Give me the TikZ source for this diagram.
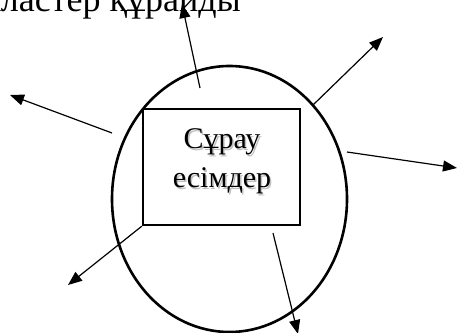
\documentclass[tikz,border=0pt]{standalone}
\usepackage{fontspec}
\setmainfont{Liberation Serif}
\usetikzlibrary{arrows.meta}
\tikzset{
  ray/.style={line width=1.2pt,-{Triangle[length=14pt,width=11pt]}},
  lbl/.style={inner sep=0pt,font=\fontsize{30}{36}\selectfont},
  toplbl/.style={inner sep=0pt,font=\fontsize{36}{42}\selectfont},
}
\begin{document}
\begin{tikzpicture}[x=1pt,y=-1pt]
\useasboundingbox (0,0) rectangle (457,332);
\clip (0,0) rectangle (457,332);
\node[toplbl,anchor=base east] (top) at (241,12) {кластер құрайды};
\draw[line width=2.6pt] (229.5,199) ellipse [x radius=117.5,y radius=133];
\node[draw,line width=2.4pt,minimum width=157pt,minimum height=116pt,inner sep=0pt] (box) at (221.5,167) {};
\node[lbl,text=black!25,anchor=base] at (223.5,150) {Сұрау};
\node[lbl,text=black!25,anchor=base] at (223.5,189) {есімдер};
\node[lbl,anchor=base] (t1) at (222,148) {Сұрау};
\node[lbl,anchor=base] (t2) at (222,187) {есімдер};
\coordinate (s1) at (200,88);   \coordinate (e1) at (182,4);
\coordinate (s2) at (112,133);  \coordinate (e2) at (10,95);
\coordinate (s3) at (313,105);  \coordinate (e3) at (383,37);
\coordinate (s4) at (347,152);  \coordinate (e4) at (457,168);
\coordinate (e5) at (68,285);
\coordinate (s6) at (273,233);  \coordinate (e6) at (298,334);
\draw[ray] (s1) -- (e1);
\draw[ray] (s2) -- (e2);
\draw[ray] (s3) -- (e3);
\draw[ray] (s4) -- (e4);
\draw[ray] (box.south west) -- (e5);
\draw[ray] (s6) -- (e6);
\end{tikzpicture}
\end{document}
